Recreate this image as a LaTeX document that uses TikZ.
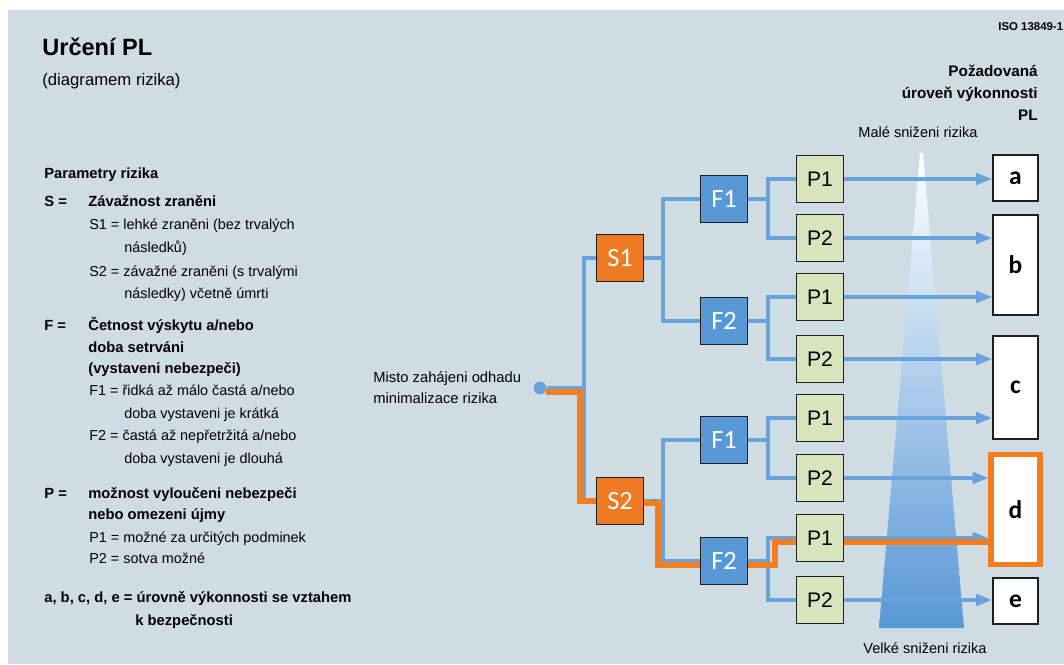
\documentclass[tikz,border=0pt]{standalone}
\usepackage{fontspec}
\setmainfont{Liberation Sans}
\newfontfamily\boxfont{Carlito}
\usetikzlibrary{arrows.meta}

\definecolor{bgpanel}{RGB}{208,220,228}
\definecolor{lineblue}{RGB}{104,163,220}
\definecolor{fblue}{RGB}{88,152,212}
\definecolor{sorange}{RGB}{238,123,36}
\definecolor{pathorange}{RGB}{242,126,34}
\definecolor{pgreen}{RGB}{215,228,190}
\definecolor{boxedge}{RGB}{30,30,30}
\definecolor{gradblue}{RGB}{88,152,214}

\tikzset{
  legtext/.style={anchor=base west, inner sep=0pt, font=\fontsize{8.2}{10}\selectfont},
  legbold/.style={legtext, font=\fontsize{8.4}{10}\selectfont\bfseries},
  nodebox/.style={draw=boxedge, line width=1.1pt, minimum width=0.94cm, minimum height=0.94cm, inner sep=0pt},
  sbox/.style={nodebox, fill=sorange, text=white, font=\boxfont\fontsize{15}{16}\selectfont},
  fbox/.style={nodebox, fill=fblue, text=white, font=\boxfont\fontsize{15}{16}\selectfont},
  pbox/.style={nodebox, fill=pgreen, font=\fontsize{12}{13}\selectfont},
  plbox/.style={nodebox, fill=white, minimum width=0.9cm, font=\boxfont\bfseries\fontsize{14.5}{15}\selectfont},
  branch/.style={draw=lineblue, line width=1.8pt},
  arr/.style={branch, -{Triangle[length=9pt,width=6.5pt]}},
  riskpath/.style={draw=pathorange, line width=3pt},
}

\begin{document}
\begin{tikzpicture}[x=0.02cm, y=-0.02cm]
  \useasboundingbox (0,0) rectangle (1064,664);
  \fill[bgpanel] (8,10) rectangle (1064,664);

  % headings
  \node[anchor=base west, inner sep=0pt, font=\fontsize{13.4}{15}\selectfont\bfseries] (title) at (42,55) {Určení PL};
  \node[legtext, font=\fontsize{9.5}{11}\selectfont] (subtitle) at (42,85) {(diagramem rizika)};
  \node[legtext, font=\fontsize{6.5}{8}\selectfont\bfseries] (iso) at (998,30) {ISO 13849-1};
  \node[legbold, anchor=base east, font=\fontsize{8.7}{10}\selectfont\bfseries] (req1) at (1038,76) {Požadovaná};
  \node[legbold, anchor=base east, font=\fontsize{8.7}{10}\selectfont\bfseries] (req2) at (1038,98) {úroveň výkonnosti};
  \node[legbold, anchor=base east, font=\fontsize{8.7}{10}\selectfont\bfseries] (req3) at (1038,120) {PL};

  % legend
  \node[legbold] (par) at (44,178) {Parametry rizika};
  \node[legbold] (sdef) at (44,206) {S =};
  \node[legbold] (stext) at (88,206) {Závažnost zraněni};
  \node[legtext] (s1a) at (89,229) {S1 = lehké zraněni (bez trvalých};
  \node[legtext] (s1b) at (124,252) {následků)};
  \node[legtext] (s2a) at (89,276) {S2 = závažné zraněni (s trvalými};
  \node[legtext] (s2b) at (124,298) {následky) včetně úmrti};
  \node[legbold] (fdef) at (44,330) {F =};
  \node[legbold] (ftext1) at (88,330) {Četnost výskytu a/nebo};
  \node[legbold] (ftext2) at (88,352) {doba setrváni};
  \node[legbold] (ftext3) at (88,373) {(vystaveni nebezpeči)};
  \node[legtext] (f1a) at (89,395) {F1 = řidká až málo častá a/nebo};
  \node[legtext] (f1b) at (124,418) {doba vystaveni je krátká};
  \node[legtext] (f2a) at (89,440) {F2 = častá až nepřetržitá a/nebo};
  \node[legtext] (f2b) at (124,463) {doba vystaveni je dlouhá};
  \node[legbold] (pdef) at (44,498) {P =};
  \node[legbold] (ptext1) at (88,498) {možnost vyloučeni nebezpeči};
  \node[legbold] (ptext2) at (88,519) {nebo omezeni újmy};
  \node[legtext] (p1txt) at (89,542) {P1 = možné za určitých podminek};
  \node[legtext] (p2txt) at (89,563) {P2 = sotva možné};
  \node[legbold] (levels1) at (44,602) {a, b, c, d, e = úrovně výkonnosti se vztahem};
  \node[legbold] (levels2) at (135,625) {k bezpečnosti};

  % risk reduction wedge
  \shade[top color=white, bottom color=gradblue] (920,153) -- (923,153) -- (964,628) -- (879,628) -- cycle;
  \node[legtext, anchor=base, font=\fontsize{8.3}{10}\selectfont] (small) at (918,137) {Malé sniženi rizika};
  \node[legtext, anchor=base, font=\fontsize{8.3}{10}\selectfont] (large) at (925,653) {Velké sniženi rizika};

  % start
  \node[legtext, font=\fontsize{8.4}{10}\selectfont] (start1) at (373,382) {Misto zahájeni odhadu};
  \node[legtext, font=\fontsize{8.4}{10}\selectfont] (start2) at (373,403) {minimalizace rizika};
  \node[circle, fill=lineblue, minimum size=0.26cm, inner sep=0pt] (start) at (540,388) {};

  % graph nodes
  \node[sbox] (S1) at (620,258) {S1};
  \node[sbox] (S2) at (620,501) {S2};
  \node[fbox] (F1a) at (724,199) {F1};
  \node[fbox] (F2a) at (724,321) {F2};
  \node[fbox] (F1b) at (724,440) {F1};
  \node[fbox] (F2b) at (724,561) {F2};
  \foreach \n/\y/\t in {p1/179/P1, p2/238/P2, p3/297/P1, p4/359/P2, p5/418/P1, p6/478/P2, p7/538/P1, p8/600/P2}
    \node[pbox] (\n) at (820,\y) {\t};

  \node[plbox, minimum height=0.92cm] (a) at (1015.5,178) {a};
  \node[plbox, minimum height=2cm] (b) at (1015.5,265) {b};
  \node[plbox, minimum height=2.06cm] (c) at (1015.5,387.5) {c};
  \node[plbox, draw=pathorange, line width=3pt, minimum width=0.98cm, minimum height=2.2cm] (d) at (1015.5,509.5) {d};
  \node[plbox, minimum height=0.92cm] (e) at (1015.5,601) {e};

  % branches
  \draw[branch] (start) -- ++(44,0) coordinate (js) |- (S1) (js) |- (S2);
  \draw[branch] (S1) -- ++(43,0) coordinate (js1) |- (F1a) (js1) |- (F2a);
  \draw[branch] (S2) -- ++(43,0) coordinate (js2) |- (F1b) (js2) |- (F2b);
  \foreach \f/\u/\l in {F1a/p1/p2, F2a/p3/p4, F1b/p5/p6, F2b/p7/p8}
    \draw[branch] (\f) -- ++(44,0) coordinate (j\f) |- (\u) (j\f) |- (\l);
  \foreach \p/\o in {p1/a, p2/b, p3/b, p4/c, p5/c, p6/d, p7/d, p8/e}
    \draw[arr] (\p) -- (\p -| \o.west);

  % highlighted path
  \coordinate (o4) at ([shift={(0,4)}]p7.east);
  \draw[riskpath] ([shift={(6,4)}]start.center) -- ([shift={(-4,4)}]js) |- (S2);
  \draw[riskpath] ([shift={(0,2)}]S2.east) -- ([shift={(-5,2)}]js2) |- ([shift={(0,4)}]F2b.west);
  \draw[riskpath] ([shift={(0,4)}]F2b.east) -- ([shift={(7,4)}]jF2b) |- ([shift={(0,4)}]p7.west);
  \draw[riskpath] (o4) -- (o4 -| d.west);
\end{tikzpicture}
\end{document}
